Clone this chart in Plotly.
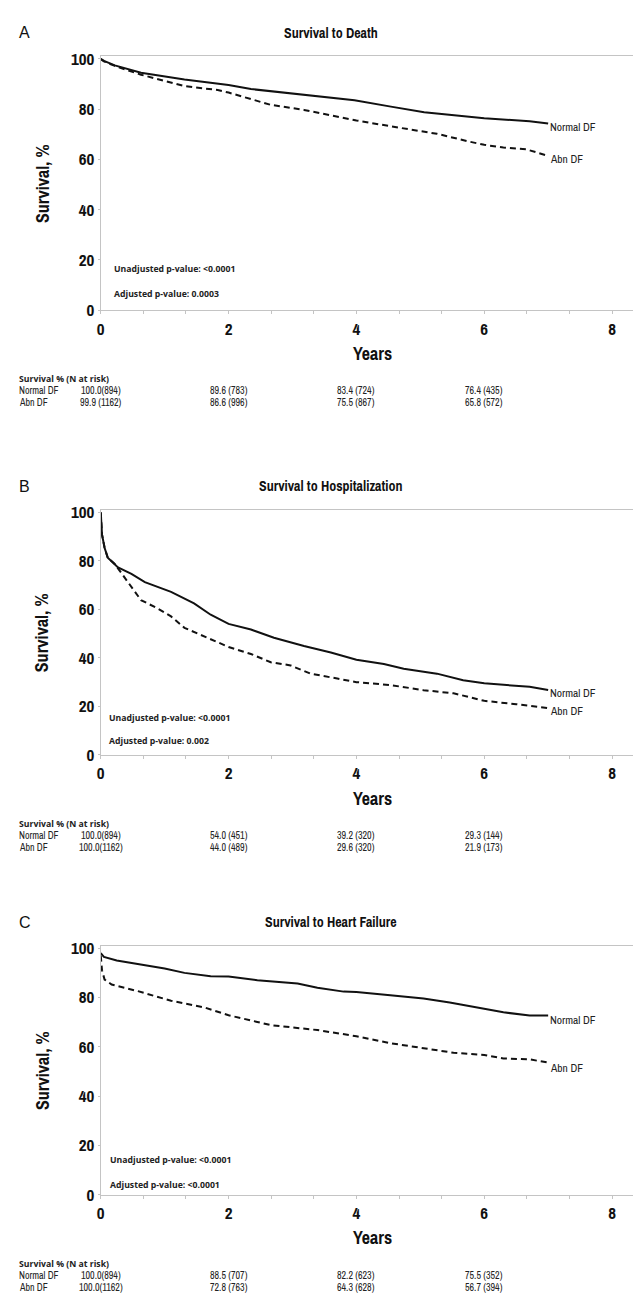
import plotly.graph_objects as go

W, H = 641, 1301

# ---------------- data ----------------
panel_letters = ["A", "B", "C"]
panel_titles = ["Survival to Death", "Survival to Hospitalization", "Survival to Heart Failure"]
group_names = ["Normal DF", "Abn DF"]

x_ticks = [0, 2, 4, 6, 8]
y_ticks = [0, 20, 40, 60, 80, 100]

# Survival to Death
death_normal_t = [0, 0.05, 0.22, 0.63, 1.31, 2.0, 2.35, 3.19, 3.97, 4.54, 5.06, 6.0, 6.71, 7.0]
death_normal_s = [100, 99.2, 97.4, 94.5, 91.8, 89.6, 88.0, 85.6, 83.5, 81.0, 78.8, 76.4, 75.2, 74.3]
death_abn_t = [0, 0.05, 0.22, 0.63, 1.31, 1.83, 2.0, 2.3, 2.66, 3.18, 4.0, 4.53, 5.26, 5.78, 6.0, 6.3, 6.66, 7.0]
death_abn_s = [99.9, 99.0, 97.2, 93.7, 89.2, 87.6, 86.6, 84.3, 81.7, 79.7, 75.5, 73.2, 70.2, 67.0, 65.8, 64.7, 64.0, 61.4]

# Survival to Hospitalization
hosp_normal_t = [0, 0.02, 0.06, 0.11, 0.27, 0.48, 0.69, 0.89, 1.1, 1.46, 1.72, 2.0, 2.35, 2.71, 3.18, 3.6, 4.0,
                 4.43, 4.74, 5.26, 5.67, 6.0, 6.3, 6.71, 7.0]
hosp_normal_s = [100, 90.8, 85.4, 81.3, 77.3, 74.6, 71.2, 69.2, 67.2, 62.5, 57.8, 54.0, 51.7, 48.3, 44.9, 42.2, 39.2,
                 37.5, 35.5, 33.5, 30.8, 29.5, 28.8, 28.1, 26.8]
hosp_abn_t = [0, 0.02, 0.06, 0.11, 0.22, 0.37, 0.63, 0.89, 1.1, 1.31, 1.62, 2.0, 2.35, 2.66, 2.97, 3.28, 3.7, 4.0,
              4.53, 5.05, 5.52, 6.0, 6.5, 7.0]
hosp_abn_s = [100, 90.8, 85.4, 81.3, 78.7, 73.3, 63.8, 60.4, 57.1, 52.4, 49.0, 44.5, 41.6, 38.2, 36.9, 33.5, 31.5, 30.0,
              28.8, 26.7, 25.4, 22.3, 20.9, 19.3]

# Survival to Heart Failure
hf_normal_t = [0, 0.05, 0.25, 0.5, 1.0, 1.31, 1.72, 2.0, 2.45, 3.08, 3.39, 3.8, 4.0, 4.53, 5.05, 5.46, 6.0, 6.3, 6.71, 7.0]
hf_normal_s = [98.0, 96.5, 95.0, 94.0, 91.8, 90.0, 88.6, 88.5, 87.0, 85.7, 84.0, 82.4, 82.2, 80.9, 79.6, 78.0, 75.5,
               74.0, 72.7, 72.7]
hf_abn_t = [0, 0.02, 0.06, 0.17, 0.58, 1.1, 1.62, 2.0, 2.45, 2.66, 3.39, 4.0, 4.53, 5.05, 5.52, 6.0, 6.3, 6.71, 7.0]
hf_abn_s = [97.0, 91.0, 87.3, 85.3, 82.6, 78.7, 76.0, 72.8, 70.1, 68.8, 66.8, 64.3, 61.5, 59.6, 57.6, 56.7, 55.3,
            54.9, 53.6]

# p-values
unadj_p = ["<0.0001", "<0.0001", "<0.0001"]
adj_p = ["0.0003", "0.002", "<0.0001"]

# risk table (survival % (N at risk)) at years 0, 2, 4, 6
risk_times = [0, 2, 4, 6]
death_normal_risk = ["100.0(894)", "89.6 (783)", "83.4 (724)", "76.4 (435)"]
death_abn_risk = ["99.9 (1162)", "86.6 (996)", "75.5 (867)", "65.8 (572)"]
hosp_normal_risk = ["100.0(894)", "54.0 (451)", "39.2 (320)", "29.3 (144)"]
hosp_abn_risk = ["100.0(1162)", "44.0 (489)", "29.6 (320)", "21.9 (173)"]
hf_normal_risk = ["100.0(894)", "88.5 (707)", "82.2 (623)", "75.5 (352)"]
hf_abn_risk = ["100.0(1162)", "72.8 (763)", "64.3 (628)", "56.7 (394)"]

# end-label positions (value axis) for group labels
end_label_s = [(72.9, 60.3), (25.6, 17.9), (70.7, 51.5)]

panels = [
    dict(normal=(death_normal_t, death_normal_s), abn=(death_abn_t, death_abn_s),
         risk=(death_normal_risk, death_abn_risk), top=39, bottom=297, p_y=(16.4, 6.4), p_x=0.17),
    dict(normal=(hosp_normal_t, hosp_normal_s), abn=(hosp_abn_t, hosp_abn_s),
         risk=(hosp_normal_risk, hosp_abn_risk), top=500, bottom=749, p_y=(15.4, 5.7), p_x=0.10),
    dict(normal=(hf_normal_t, hf_normal_s), abn=(hf_abn_t, hf_abn_s),
         risk=(hf_normal_risk, hf_abn_risk), top=943, bottom=1196, p_y=(14.1, 3.9), p_x=0.12),
]

# ---------------- styling ----------------
NARROW = "Archivo Narrow, Roboto Condensed, Liberation Sans"
SANS = "Liberation Sans, Arial"
HUMAN = "Open Sans, Noto Sans, Lato"
AXIS_GRAY = "#c4c4c4"
X_LEFT, X_RIGHT = 89.3, 636.0


def py(px):
    return 1 - px / H


fig = go.Figure()
annotations = []

for i, p in enumerate(panels):
    n = "" if i == 0 else str(i + 1)
    xa, ya = "x" + n, "y" + n
    for key, dash in (("normal", "solid"), ("abn", "6px,4px")):
        t, s = p[key]
        fig.add_trace(go.Scatter(x=t, y=s, mode="lines", xaxis=xa, yaxis=ya,
                                 line=dict(color="#111111", width=2, dash=dash),
                                 showlegend=False, hoverinfo="skip"))
    fig.update_layout(**{
        "xaxis" + n: dict(domain=[X_LEFT / W, X_RIGHT / W], range=[0, 8.5], anchor=ya,
                          tickvals=x_ticks, ticks="outside", ticklen=3, tickcolor=AXIS_GRAY,
                          showline=True, linecolor=AXIS_GRAY, linewidth=1, mirror=True,
                          showgrid=False, zeroline=False,
                          tickfont=dict(family=NARROW, size=17, color="#111", weight="bold"),
                          minor=dict(dtick=2 / 3, tick0=0, ticks="outside", ticklen=3, tickcolor=AXIS_GRAY)),
        "yaxis" + n: dict(domain=[py(p["bottom"]), py(p["top"])], range=[0, 101], anchor=xa,
                          tickvals=y_ticks, ticks="outside", ticklen=2, tickcolor=AXIS_GRAY,
                          showline=True, linecolor=AXIS_GRAY, linewidth=1, mirror=True,
                          showgrid=False, zeroline=False,
                          tickfont=dict(family=NARROW, size=17, color="#111", weight="bold")),
    })
    yb = p["bottom"]
    annotations.append(dict(text=panel_letters[i], x=5 / W, y=py(p["top"] - 24), xref="paper", yref="paper",
                            xanchor="left", yanchor="middle", showarrow=False,
                            font=dict(family=SANS, size=16, color="#111")))
    annotations.append(dict(text=panel_titles[i], x=0.5, y=py(p["top"] - 24), xref="paper", yref="paper",
                            xanchor="center", yanchor="middle", showarrow=False,
                            font=dict(family=NARROW, size=14, color="#111", weight="bold")))
    annotations.append(dict(text="Survival, %", x=30 / W, y=py((p["top"] + yb) / 2), xref="paper", yref="paper",
                            textangle=-90, xanchor="center", yanchor="middle", showarrow=False,
                            font=dict(family=NARROW, size=18, color="#111", weight="bold")))
    annotations.append(dict(text="Years", x=4.25, y=py(yb + 44), xref=xa, yref="paper",
                            xanchor="center", yanchor="middle", showarrow=False,
                            font=dict(family=NARROW, size=18, color="#111", weight="bold")))
    annotations.append(dict(text="Unadjusted p-value: " + unadj_p[i], x=p["p_x"], y=p["p_y"][0], xref=xa, yref=ya,
                            xanchor="left", yanchor="middle", showarrow=False,
                            font=dict(family=HUMAN, size=8.7, color="#222", weight="bold")))
    annotations.append(dict(text="Adjusted p-value: " + adj_p[i], x=p["p_x"], y=p["p_y"][1], xref=xa, yref=ya,
                            xanchor="left", yanchor="middle", showarrow=False,
                            font=dict(family=HUMAN, size=8.7, color="#222", weight="bold")))
    for g, sv in zip(group_names, end_label_s[i]):
        annotations.append(dict(text=g, x=7.0, y=sv, xref=xa, yref=ya, xanchor="left", yanchor="middle",
                                showarrow=False, font=dict(family=NARROW, size=11.5, color="#222")))
    annotations.append(dict(text="Survival % (N at risk)", x=5 / W, y=py(yb + 70), xref="paper", yref="paper",
                            xanchor="left", yanchor="middle", showarrow=False,
                            font=dict(family=HUMAN, size=8.7, color="#222", weight="bold")))
    for r, (g, row) in enumerate(zip(group_names, p["risk"])):
        yy = py(yb + 82 + 12 * r)
        annotations.append(dict(text=g, x=5 / W, y=yy, xref="paper", yref="paper", xanchor="left",
                                yanchor="middle", showarrow=False, font=dict(family=NARROW, size=10, color="#222")))
        for tt, txt in zip(risk_times, row):
            annotations.append(dict(text=txt, x=tt, y=yy, xref=xa, yref="paper", xanchor="center",
                                    yanchor="middle", showarrow=False,
                                    font=dict(family=NARROW, size=10, color="#222")))

fig.update_layout(width=W, height=H, margin=dict(l=0, r=0, t=0, b=0), paper_bgcolor="white",
                  plot_bgcolor="white", annotations=annotations)
fig.write_html("out.html")
